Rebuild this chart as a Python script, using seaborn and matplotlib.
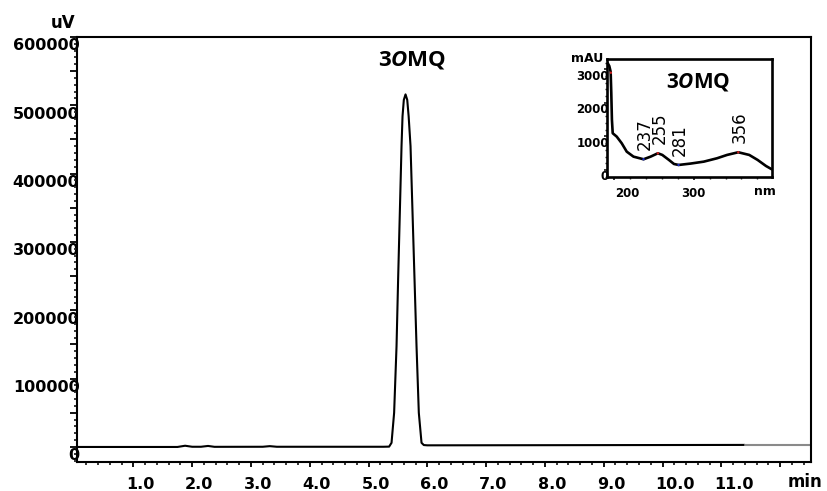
import matplotlib
matplotlib.use("Agg")
import matplotlib.pyplot as plt
import matplotlib.ticker as mticker
from matplotlib.transforms import ScaledTranslation
import pandas as pd
import seaborn as sns

# ---------------- data ----------------
# chromatogram (time in min, signal in uV)
time_min = [0.05, 1.75, 1.88, 2.00, 2.15, 2.27, 2.38, 3.20, 3.32, 3.44, 5.25, 5.35,
            5.391, 5.435, 5.476, 5.503, 5.532, 5.561, 5.578, 5.600, 5.629, 5.658,
            5.682, 5.714, 5.748, 5.782, 5.816, 5.855, 5.901, 5.94, 6.00, 8.00, 11.40]
signal_uV = [0, 0, 1800, 300, 300, 1500, 200, 300, 1200, 300, 300, 500,
             6100, 50000, 147600, 245200, 342900, 440400, 484000, 508000, 516000, 508000,
             484000, 440400, 342900, 245200, 147600, 50000, 6100, 2800, 2400, 2600, 3000]
tail_time_min = [11.40, 12.52]
tail_signal_uV = [3000, 3000]

x_tick_values = [1, 2, 3, 4, 5, 6, 7, 8, 9, 10, 11, 12]
x_tick_labels = ["1.0", "2.0", "3.0", "4.0", "5.0", "6.0", "7.0", "8.0", "9.0", "10.0", "11.0", ""]
y_tick_values = [0, 50000, 100000, 150000, 200000, 250000, 300000, 350000, 400000,
                 450000, 500000, 550000, 600000]
y_tick_labels = ["0", "", "100000", "", "200000", "", "300000", "", "400000", "",
                 "500000", "", "600000"]

# UV spectrum of the peak (nm, mAU)
wavelength_nm = [192.0, 194.0, 195.7, 196.5, 197.3, 198.3, 203.3, 209.6, 215.9, 224.4,
                 237.0, 245.9, 255.0, 260.6, 268.9, 275.2, 281.0, 296.0, 312.7, 329.4,
                 341.9, 356.0, 369.8, 380.3, 390.8, 398.0]
absorbance_mAU = [3185, 3100, 2930, 2300, 1500, 1095, 995, 797, 546, 397,
                  319, 397, 498, 448, 299, 179, 149, 190, 248, 349,
                  448, 528, 448, 299, 119, 21]
peak_nm = [237, 255, 281, 356]
peak_mAU = [319, 498, 149, 528]
marker_nm = [196.0, 237, 255, 281, 356]
marker_mAU = [2900, 319, 498, 149, 528]
marker_colors = ["#d02020", "#2030c0", "#d02020", "#2030c0", "#d02020"]

inset_x_ticks = [200, 300]
inset_x_labels = ["200", "300"]
inset_y_ticks = [0, 1000, 2000, 3000]
inset_y_labels = ["0", "1000", "2000", "3000"]

compound = r"$\mathrm{3}\mathit{O}\mathrm{MQ}$"

# ---------------- style ----------------
sns.set_theme(style="ticks")
plt.rcParams["font.family"] = ["DejaVu Sans"]
plt.rcParams["font.weight"] = "bold"
plt.rcParams["text.color"] = "black"
plt.rcParams["mathtext.fontset"] = "custom"
plt.rcParams["mathtext.rm"] = "Open Sans:bold"
plt.rcParams["mathtext.it"] = "Open Sans:italic:bold"
plt.rcParams["mathtext.bf"] = "Open Sans:bold"

W, H = 828, 491
fig = plt.figure(figsize=(W / 100, H / 100), dpi=100)
fig.patch.set_facecolor("white")


def fx(px):
    return px / W


def fy(py):
    return 1 - py / H


def shift(dx_px, dy_px):
    return ScaledTranslation(dx_px / 100, dy_px / 100, fig.dpi_scale_trans)


# ---------------- main chromatogram ----------------
ax = fig.add_axes([fx(77.5), fy(462), fx(810.7) - fx(77.5), fy(37) - fy(462)])
ax.set_facecolor("white")
chrom = pd.DataFrame({"time": time_min, "signal": signal_uV})
tail = pd.DataFrame({"time": tail_time_min, "signal": tail_signal_uV})
sns.lineplot(data=chrom, x="time", y="signal", ax=ax, color="black", linewidth=1.5,
             sort=False, estimator=None)
sns.lineplot(data=tail, x="time", y="signal", ax=ax, color="#8a8a8a", linewidth=1.5,
             sort=False, estimator=None)
ax.set_xlim(0.05, 12.52)
ax.set_ylim(-22000, 600000)
ax.set_xlabel("")
ax.set_ylabel("")
ax.set_xticks(x_tick_values, x_tick_labels)
ax.set_yticks(y_tick_values, y_tick_labels)
ax.xaxis.set_minor_locator(mticker.MultipleLocator(0.2))
ax.yaxis.set_minor_locator(mticker.MultipleLocator(10000))
for s in ax.spines.values():
    s.set_linewidth(1.5)
    s.set_color("black")
ax.tick_params(axis="x", which="major", direction="out", length=3.6, width=1.3,
               pad=7, labelsize=11.5, colors="black")
ax.tick_params(axis="x", which="minor", direction="out", length=2.0, width=1.3)
ax.tick_params(axis="y", which="major", direction="out", length=4.8, width=1.3,
               pad=-6.2, labelsize=11.5, colors="black")
ax.tick_params(axis="y", which="minor", direction="out", length=2.2, width=1.3)
for lbl in ax.get_xticklabels():
    lbl.set_horizontalalignment("left")
    lbl.set_transform(lbl.get_transform() + shift(-7, 0))
for lbl in ax.get_yticklabels():
    lbl.set_verticalalignment("top")
    lbl.set_transform(lbl.get_transform() + shift(0, -1.5))

fig.text(fx(412.5), fy(60), compound, ha="center", va="center", fontsize=16, color="black")
fig.text(fx(63), fy(23), "uV", ha="center", va="center", fontsize=12, fontweight="bold")
fig.text(fx(805), fy(487), "min", ha="center", va="baseline", fontsize=12, fontweight="bold")

# ---------------- inset UV spectrum ----------------
axi = fig.add_axes([fx(607.3), fy(177), fx(771.7) - fx(607.3), fy(59.3) - fy(177)])
axi.set_facecolor("white")
spec = pd.DataFrame({"nm": wavelength_nm, "mAU": absorbance_mAU})
sns.lineplot(data=spec, x="nm", y="mAU", ax=axi, color="black", linewidth=1.9,
             sort=False, estimator=None)
axi.scatter(marker_nm, marker_mAU, s=3, c=marker_colors, zorder=5, linewidths=0)
axi.set_xlim(191.5, 398)
axi.set_ylim(-210, 3300)
axi.set_xlabel("")
axi.set_ylabel("")
axi.set_xticks(inset_x_ticks, inset_x_labels)
axi.set_yticks(inset_y_ticks, inset_y_labels)
axi.xaxis.set_minor_locator(mticker.MultipleLocator(20))
axi.yaxis.set_minor_locator(mticker.MultipleLocator(200))
for s in axi.spines.values():
    s.set_linewidth(1.9)
    s.set_color("black")
axi.tick_params(axis="x", which="major", direction="out", length=2.5, width=1.1,
                pad=4.8, labelsize=8.5, colors="black")
axi.tick_params(axis="x", which="minor", direction="out", length=1.5, width=1.0)
axi.tick_params(axis="y", which="major", direction="out", length=2.5, width=1.1,
                pad=-3.5, labelsize=8.5, colors="black")
axi.tick_params(axis="y", which="minor", direction="out", length=1.5, width=1.0)
for lbl, val in zip(axi.get_xticklabels(), inset_x_ticks):
    if val == 200:
        lbl.set_transform(lbl.get_transform() + shift(13, 0))
for lbl in axi.get_yticklabels():
    lbl.set_verticalalignment("top")
    lbl.set_transform(lbl.get_transform() + shift(0, -0.5))

for nm, val in zip(peak_nm, peak_mAU):
    axi.annotate(str(nm), xy=(nm, val), xytext=(1.2, 6.5), textcoords="offset points",
                 rotation=90, ha="center", va="bottom", fontsize=12,
                 fontweight="normal", color="black")

fig.text(fx(698.5), fy(82), compound, ha="center", va="center", fontsize=15, color="black")
fig.text(fx(587.5), fy(58), "mAU", ha="center", va="center", fontsize=9, fontweight="bold")
fig.text(fx(765), fy(191.5), "nm", ha="center", va="center", fontsize=9, fontweight="bold")

fig.savefig("out.png", dpi=100)
